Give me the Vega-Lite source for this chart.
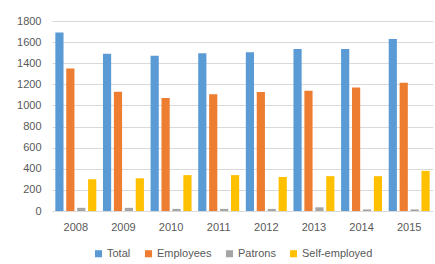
{
  "$schema": "https://vega.github.io/schema/vega-lite/v6.json",
  "width": 381,
  "height": 190,
  "autosize": {"type": "none"},
  "padding": {"left": 52, "top": 21, "right": 2, "bottom": 53},
  "background": "white",
  "config": {
    "font": "Liberation Sans",
    "view": {"stroke": null},
    "axis": {"labelFont": "Liberation Sans", "labelFontSize": 11, "labelColor": "#595959"},
    "legend": {"labelFont": "Liberation Sans", "labelFontSize": 11, "labelColor": "#595959"}
  },
  "data": {
    "values": [
      {"year": "2008", "series": "Total", "value": 1690},
      {"year": "2008", "series": "Employees", "value": 1350},
      {"year": "2008", "series": "Patrons", "value": 30},
      {"year": "2008", "series": "Self-employed", "value": 300},
      {"year": "2009", "series": "Total", "value": 1490},
      {"year": "2009", "series": "Employees", "value": 1130},
      {"year": "2009", "series": "Patrons", "value": 30},
      {"year": "2009", "series": "Self-employed", "value": 310},
      {"year": "2010", "series": "Total", "value": 1470},
      {"year": "2010", "series": "Employees", "value": 1070},
      {"year": "2010", "series": "Patrons", "value": 20},
      {"year": "2010", "series": "Self-employed", "value": 340},
      {"year": "2011", "series": "Total", "value": 1495},
      {"year": "2011", "series": "Employees", "value": 1105},
      {"year": "2011", "series": "Patrons", "value": 20},
      {"year": "2011", "series": "Self-employed", "value": 340},
      {"year": "2012", "series": "Total", "value": 1505},
      {"year": "2012", "series": "Employees", "value": 1127},
      {"year": "2012", "series": "Patrons", "value": 20},
      {"year": "2012", "series": "Self-employed", "value": 322},
      {"year": "2013", "series": "Total", "value": 1535},
      {"year": "2013", "series": "Employees", "value": 1140},
      {"year": "2013", "series": "Patrons", "value": 35},
      {"year": "2013", "series": "Self-employed", "value": 330},
      {"year": "2014", "series": "Total", "value": 1535},
      {"year": "2014", "series": "Employees", "value": 1170},
      {"year": "2014", "series": "Patrons", "value": 15},
      {"year": "2014", "series": "Self-employed", "value": 330},
      {"year": "2015", "series": "Total", "value": 1630},
      {"year": "2015", "series": "Employees", "value": 1215},
      {"year": "2015", "series": "Patrons", "value": 15},
      {"year": "2015", "series": "Self-employed", "value": 380}
    ]
  },
  "mark": {"type": "bar"},
  "encoding": {
    "x": {
      "field": "year", "type": "nominal", "title": null,
      "scale": {"paddingInner": 0.14, "paddingOuter": 0.07},
      "axis": {"labelAngle": 0, "ticks": false, "domain": false, "labelPadding": 10}
    },
    "xOffset": {
      "field": "series", "type": "nominal",
      "sort": ["Total", "Employees", "Patrons", "Self-employed"],
      "scale": {"paddingInner": 0.25}
    },
    "y": {
      "field": "value", "type": "quantitative", "title": null,
      "scale": {"domain": [0, 1800]},
      "axis": {"values": [0, 200, 400, 600, 800, 1000, 1200, 1400, 1600, 1800], "format": "d", "ticks": false, "domain": false, "labelPadding": 11, "gridColor": "#D9D9D9"}
    },
    "color": {
      "field": "series", "type": "nominal",
      "sort": ["Total", "Employees", "Patrons", "Self-employed"],
      "scale": {"domain": ["Total", "Employees", "Patrons", "Self-employed"], "range": ["#5B9BD5", "#ED7D31", "#A5A5A5", "#FFC000"]},
      "legend": {"orient": "none", "legendX": 41, "legendY": 227, "direction": "horizontal", "title": null, "symbolType": "square", "symbolSize": 50, "columnPadding": 12, "labelOffset": 3}
    }
  }
}
